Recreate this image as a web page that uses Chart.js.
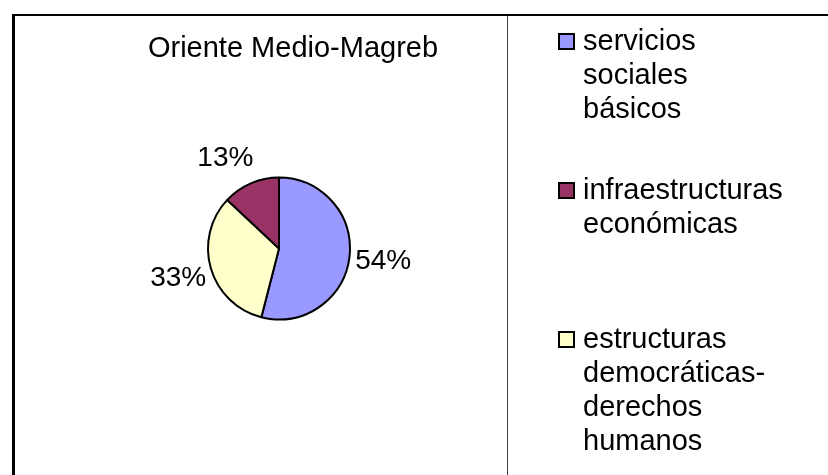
<!DOCTYPE html>
<html>
<head>
<meta charset="utf-8">
<script src="https://cdn.jsdelivr.net/npm/chart.js@4/dist/chart.umd.min.js"></script>
<style>
  body { margin: 0; background: #fff; }
  canvas { display: block; }
</style>
</head>
<body>
<canvas id="chart" width="828" height="475"></canvas>
<script>
// chart data (legend order)
var title = 'Oriente Medio-Magreb';
var categories = ['servicios sociales básicos', 'infraestructuras económicas', 'estructuras democráticas-derechos humanos'];
var shares = [54, 13, 33];
var colors = ['#9999FF', '#993366', '#FFFFCC'];
// slices go clockwise from 12 o'clock in this order
var sliceOrder = [0, 2, 1];

var FONT = '29px "Liberation Sans", Arial, sans-serif';

// split a label into lines no wider than maxW (break at spaces and after hyphens)
function wrap(ctx, text, maxW){
    var re = /([^ \-]+-?)( ?)/g, m;
    var parts = [];
    while((m = re.exec(text)) !== null){
        parts.push({w: m[1], sp: m[2]});
    }
    var lines = [];
    var cur = '';
    var prevSp = '';
    for(var i = 0; i < parts.length; i++){
        var test = cur === '' ? parts[i].w : cur + prevSp + parts[i].w;
        if(cur !== '' && ctx.measureText(test).width > maxW){
            lines.push(cur);
            cur = parts[i].w;
        } else {
            cur = test;
        }
        prevSp = parts[i].sp;
    }
    if(cur !== '') lines.push(cur);
    return lines;
}

var framePlugin = {
    id: 'frame',
    beforeDraw: function(chart){
        var ctx = chart.ctx;
        ctx.save();
        ctx.fillStyle = '#ffffff';
        ctx.fillRect(0, 0, chart.width, chart.height);
        ctx.restore();
    },
    afterDraw: function(chart){
        var ctx = chart.ctx;
        ctx.save();

        //outer frame and divider
        ctx.fillStyle = '#000000';
        ctx.fillRect(12, 14, chart.width, 2);
        ctx.fillRect(12, 14, 3, chart.height);
        ctx.fillStyle = '#404040';
        ctx.fillRect(507, 16, 1, chart.height);

        //title
        ctx.font = FONT;
        ctx.fillStyle = '#000000';
        ctx.textAlign = 'center';
        ctx.textBaseline = 'alphabetic';
        ctx.fillText(title, 293, 57);

        //percentage labels outside the slices
        var meta = chart.getDatasetMeta(0);
        var data = chart.data.datasets[0].data;
        var total = data.reduce(function(a, b){ return a + b; }, 0);
        ctx.font = '28px "Liberation Sans", Arial, sans-serif';
        ctx.textBaseline = 'middle';
        meta.data.forEach(function(arc, i){
            var p = arc.getProps(['x', 'y', 'startAngle', 'endAngle', 'outerRadius'], true);
            var mid = (p.startAngle + p.endAngle) / 2;
            var d = p.outerRadius + 34;
            var lx = p.x + Math.cos(mid) * d;
            var ly = p.y + Math.sin(mid) * d;
            // labels above the pie sit a little further out sideways
            if(Math.sin(mid) < -0.5) { lx += Math.cos(mid) * 30; ly += 6; }
            ctx.fillText(Math.round(data[i] / total * 100) + '%', lx, ly);
        });

        //legend
        ctx.font = FONT;
        ctx.textAlign = 'left';
        ctx.textBaseline = 'alphabetic';
        for(var i = 0; i < categories.length; i++){
            var base = 50 + i * 149;
            ctx.fillStyle = colors[i];
            ctx.fillRect(559, base - 16, 15, 15);
            ctx.strokeStyle = '#000000';
            ctx.lineWidth = 2;
            ctx.strokeRect(559, base - 16, 15, 15);
            ctx.fillStyle = '#000000';
            var lines = wrap(ctx, categories[i], 205);
            for(var j = 0; j < lines.length; j++){
                ctx.fillText(lines[j], 583, base + j * 34);
            }
        }
        ctx.restore();
    }
};

var ctx = document.getElementById('chart');
var graph = new Chart(ctx, {
    type: 'pie',
    data: {
        labels: sliceOrder.map(function(k){ return categories[k]; }),
        datasets: [{
            data: sliceOrder.map(function(k){ return shares[k]; }),
            backgroundColor: sliceOrder.map(function(k){ return colors[k]; }),
            borderColor: '#000000',
            borderWidth: 2
        }]
    },
    options: {
        responsive: false,
        animation: false,
        layout: {
            padding: { left: 207, right: 477, top: 176, bottom: 154 }
        },
        plugins: {
            legend: { display: false },
            title: { display: false },
            tooltip: { enabled: false }
        }
    },
    plugins: [framePlugin]
});
</script>
</body>
</html>
